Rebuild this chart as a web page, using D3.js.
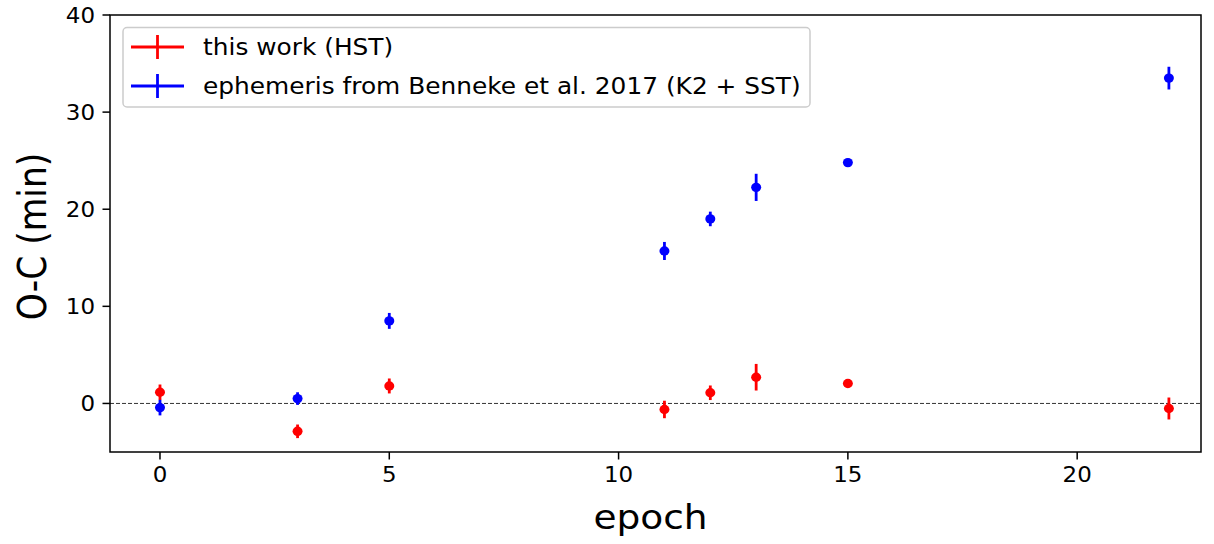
<!DOCTYPE html>
<html><head><meta charset="utf-8">
<script src="https://cdn.jsdelivr.net/npm/d3@7"></script>
<style>body{margin:0;background:#fff}svg{display:block}text{font-family:"DejaVu Sans",sans-serif}</style>
</head><body><svg id="c" width="1214" height="544"></svg>
<script>
const epochs = [0, 3, 5, 11, 12, 13, 15, 22];
const hstValues = [1.15, -2.87, 1.8, -0.62, 1.1, 2.7, 2.05, -0.52];
const hstErrors = [0.8, 0.7, 0.77, 0.9, 0.75, 1.37, 0.4, 1.13];
const benValues = [-0.43, 0.5, 8.5, 15.7, 19.0, 22.25, 24.8, 33.5];
const benErrors = [0.8, 0.65, 0.82, 0.93, 0.75, 1.4, 0.4, 1.17];
const xTicks = [0, 5, 10, 15, 20];
const yTicks = [0, 10, 20, 30, 40];
const seriesNames = ["this work (HST)", "ephemeris from Benneke et al. 2017 (K2 + SST)"];
const seriesColors = ["#ff0000", "#0000ff"];

const SX = 1.12; // horizontal stretch of the text
const svg = d3.select("#c");
const L = 110, R = 1201, T = 15, B = 452;
const x = d3.scaleLinear().domain([-1.09, 22.7]).range([L, R]);
const y = d3.scaleLinear().domain([-5, 40]).range([B, T]);

// zero line
svg.append("line").attr("x1", L).attr("x2", R).attr("y1", y(0)).attr("y2", y(0))
  .attr("stroke", "#333").attr("stroke-width", 1).attr("stroke-dasharray", "4,2");

const series = [
  {vals: hstValues, errs: hstErrors, color: seriesColors[0]},
  {vals: benValues, errs: benErrors, color: seriesColors[1]}
];
series.forEach(s => {
  const g = svg.append("g");
  epochs.forEach((e, i) => {
    g.append("line").attr("x1", x(e)).attr("x2", x(e))
      .attr("y1", y(s.vals[i] - s.errs[i])).attr("y2", y(s.vals[i] + s.errs[i]))
      .attr("stroke", s.color).attr("stroke-width", 2.8);
    g.append("ellipse").attr("cx", x(e)).attr("cy", y(s.vals[i])).attr("rx", 5).attr("ry", 4.7)
      .attr("fill", s.color);
  });
});

// frame
svg.append("rect").attr("x", L).attr("y", T).attr("width", R - L).attr("height", B - T)
  .attr("fill", "none").attr("stroke", "#000").attr("stroke-width", 1.5);

// x ticks
xTicks.forEach(t => {
  svg.append("line").attr("x1", x(t)).attr("x2", x(t)).attr("y1", B).attr("y2", B + 7.5)
    .attr("stroke", "#000").attr("stroke-width", 1.5);
  svg.append("text").attr("transform", `translate(${x(t)},${B + 30}) scale(${SX},1)`)
    .attr("text-anchor", "middle").style("font-size", "20.5px").text(d3.format("d")(t));
});
// y ticks
yTicks.forEach(t => {
  svg.append("line").attr("x1", L - 7.5).attr("x2", L).attr("y1", y(t)).attr("y2", y(t))
    .attr("stroke", "#000").attr("stroke-width", 1.5);
  svg.append("text").attr("transform", `translate(${L - 15},${y(t) + 7.5}) scale(${SX},1)`)
    .attr("text-anchor", "end").style("font-size", "20.5px").text(d3.format("d")(t));
});

svg.append("text").attr("transform", `translate(${(L + R) / 2 - 5},529) scale(${SX},1)`).attr("text-anchor", "middle")
  .style("font-size", "33.5px").text("epoch");
svg.append("text").attr("transform", `translate(46,${(T + B) / 2 + 3}) scale(${SX},1) rotate(-90)`).attr("text-anchor", "middle")
  .style("font-size", "34.5px").text("O-C (min)");

// legend
const lg = svg.append("g");
lg.append("rect").attr("x", 123).attr("y", 27.5).attr("width", 687).attr("height", 79.5).attr("rx", 4)
  .attr("fill", "#fff").attr("fill-opacity", 0.8).attr("stroke", "#ccc").attr("stroke-width", 1.5);
seriesNames.forEach((n, i) => {
  const cy = 47 + i * 39;
  lg.append("line").attr("x1", 131).attr("x2", 184).attr("y1", cy).attr("y2", cy)
    .attr("stroke", seriesColors[i]).attr("stroke-width", 2.8);
  lg.append("line").attr("x1", 157.5).attr("x2", 157.5).attr("y1", cy - 12).attr("y2", cy + 12)
    .attr("stroke", seriesColors[i]).attr("stroke-width", 2.8);
  lg.append("text").attr("transform", `translate(203,${cy + 8}) scale(${SX},1)`)
    .style("font-size", "22.2px").text(n);
});
</script></body></html>
